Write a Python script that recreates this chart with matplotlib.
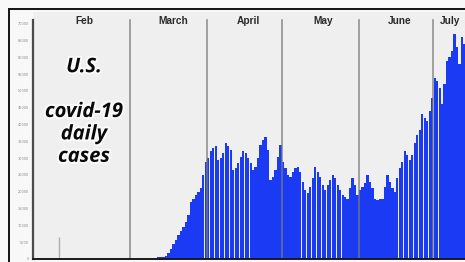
#!/usr/bin/env python3
"""
plot.py

U.S. covid-19 daily cases, Jan 22 - mid July 2020, as daily bars.
"""

import numpy as np
import pandas as pd
import matplotlib.pyplot as plt
from matplotlib.patches import Rectangle
import matplotlib.patheffects as pe

# daily new cases
start_date = "2020-01-22"
cases_jan = [1, 0, 0, 1, 1, 0, 0, 0, 0, 1]
cases_feb = [1, 0, 0, 0, 3, 0, 0, 0, 0, 0, 1, 0, 0, 0, 0,
             0, 0, 0, 0, 0, 0, 0, 0, 0, 1, 0, 3, 1, 6]
cases_mar = [20, 25, 30, 35, 70, 60, 110, 120, 170, 290,
             420, 480, 650, 740, 1000, 1800, 2900, 4500, 5700, 7000,
             8300, 9500, 11000, 13000, 17000, 18000, 19000, 20000, 21000, 25000,
             29000]
cases_apr = [30000, 32000, 33000, 33500, 29500, 30000, 31500, 34500, 33500, 32500,
             26500, 27000, 28600, 30500, 32000, 31500, 30000, 28500, 26500, 27400,
             30000, 34000, 35500, 36300, 32500, 23500, 24500, 26500, 30500, 34000]
cases_may = [29000, 27000, 25000, 24400, 26000, 27000, 27400, 26000, 23000, 20500,
             19500, 21400, 24000, 27400, 26000, 24400, 22000, 20500, 22000, 23500,
             25000, 24000, 22000, 20500, 19000, 18500, 18000, 21000, 24000, 22000,
             19000]
cases_jun = [20500, 21500, 22500, 25000, 23000, 21000, 18000, 17500, 17800, 18000,
             21500, 25000, 23000, 21000, 20000, 24000, 27000, 29000, 32000, 31000,
             29500, 31000, 34500, 37000, 38400, 43000, 42000, 41000, 44000, 48000]
cases_jul = [54000, 53000, 51000, 46000, 52000, 59000, 60000, 62000, 67000, 63000,
             58000, 66000, 64000, 66000]

month_names = ["Feb", "March", "April", "May", "June", "July"]
month_starts = ["2020-02-01", "2020-03-01", "2020-04-01", "2020-05-01",
                "2020-06-01", "2020-07-01"]
# where each month name sits (day of month, July is only half shown)
label_days = [10, 17, 16, 16, 16, 6]

y_ticks = list(range(0, 70001, 5000))


def main():
    cases = (cases_jan + cases_feb + cases_mar + cases_apr + cases_may
             + cases_jun + cases_jul)
    day0 = pd.Timestamp(start_date)
    idx = np.arange(len(cases))

    W, H = 465, 262
    fig = plt.figure(figsize=(W / 100, H / 100), dpi=100)
    fig.patch.set_facecolor("#f8f8f8")

    # axes run off the right edge like in the cropped original
    x0, x1 = 33, 475.7
    y_top, y_bot = 12, 259
    ax = fig.add_axes([x0 / W, (H - y_bot) / H, (x1 - x0) / W, (y_bot - y_top) / H])
    ax.set_facecolor("#efefef")

    ax.bar(idx, cases, width=0.9, color="#1a3af4", edgecolor="none", zorder=2)

    ax.set_xlim(-0.5, 177.5)
    ymax = 73500
    ax.set_ylim(0, ymax)
    spine_top = 71100

    # month dividers
    for m in month_starts[1:]:
        d = (pd.Timestamp(m) - day0).days - 0.5
        ax.axvline(d, ymax=spine_top / ymax, color="#7a7a7a", lw=1.2,
                   alpha=0.8, zorder=3)

    # month names
    for name, m, off in zip(month_names, month_starts, label_days):
        d = (pd.Timestamp(m) - day0).days + off
        ax.text(d, 0.962, name, transform=ax.get_xaxis_transform(),
                ha="center", va="center", fontsize=7.3, fontweight="bold",
                color="#2a2a2a", family="Liberation Sans")

    # title block
    ax.text(20.0, 0.595, "U.S.\n\ncovid-19\ndaily\ncases",
            transform=ax.get_xaxis_transform(), ha="center", va="center",
            fontsize=14.5, fontweight="bold", style="italic", family="Open Sans",
            color="#0a0a0a", linespacing=1.16, zorder=4,
            path_effects=[pe.withStroke(linewidth=3, foreground="#fafafa")])

    # spines
    for s in ["top", "right"]:
        ax.spines[s].set_visible(False)
    ax.spines["left"].set_bounds(0, spine_top)
    ax.spines["left"].set_color("#4a4a4a")
    ax.spines["left"].set_linewidth(1.6)
    ax.spines["bottom"].set_color("#1a1a1a")
    ax.spines["bottom"].set_linewidth(1.4)
    ax.spines["left"].set_zorder(5)
    ax.spines["bottom"].set_zorder(5)

    ax.set_xticks([])
    feb1 = (pd.Timestamp("2020-02-01") - day0).days
    ax.set_xticks([feb1], minor=True)
    ax.tick_params(axis="x", which="minor", direction="in", length=16,
                   width=1.0, color="#b0b0b0", labelbottom=False)

    ax.set_yticks(y_ticks)
    ax.set_yticklabels([str(v) for v in y_ticks])
    ax.tick_params(axis="y", length=0, pad=3, labelsize=2.5, labelcolor="#8a8a8a")

    # outer black frame, only top and left are inside the crop
    fig.add_artist(Rectangle((9 / W, -0.1), 2, (H - 9) / H + 0.1,
                             transform=fig.transFigure, fill=False,
                             edgecolor="#111111", lw=1.4))

    fig.savefig("out.png", dpi=100, facecolor=fig.get_facecolor())


if __name__ == "__main__":
    main()
